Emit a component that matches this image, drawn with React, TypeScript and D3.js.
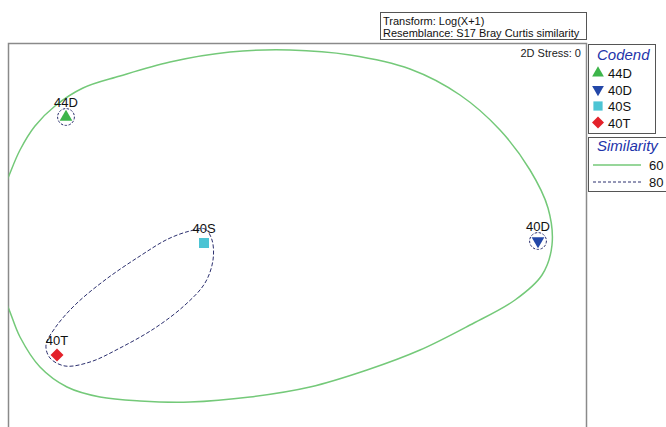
import React from "react";
import * as d3 from "d3";

// ---- data ----
const samples = ["44D", "40D", "40S", "40T"];
const mdsX = [-1.17, 1.19, -0.48, -1.215];
const mdsY = [0.565, -0.055, -0.065, -0.625];
const sampleColors = ["#3db54a", "#2347a8", "#4cc4d4", "#e3212a"];
const sampleShapes = ["triangle", "triangleDown", "square", "diamond"];

const simLevels = ["60", "80"];

// 60% similarity contour (MDS coordinates)
const contour60X = [-1.56, -1.525, -1.46, -1.4, -1.325, -1.225, -1.085, -0.9, -0.65, -0.35, -0.05, 0.25, 0.55, 0.8, 1.0, 1.15, 1.24, 1.26, 1.21, 1.075, 0.85, 0.6, 0.335, 0.05, -0.25, -0.55, -0.8, -1.0, -1.165, -1.3, -1.4, -1.46, -1.525];
const contour60Y = [-0.075, 0.1, 0.26, 0.4, 0.52, 0.62, 0.71, 0.77, 0.84, 0.89, 0.9, 0.875, 0.805, 0.675, 0.5, 0.3, 0.11, -0.075, -0.225, -0.35, -0.475, -0.6, -0.7, -0.785, -0.835, -0.86, -0.855, -0.835, -0.785, -0.685, -0.535, -0.385, -0.25];

// 80% similarity contour around 40S + 40T
const contour80X = [-0.55, -0.475, -0.44, -0.435, -0.475, -0.575, -0.725, -0.9, -1.05, -1.175, -1.25, -1.27, -1.225, -1.125, -0.975, -0.8, -0.66];
const contour80Y = [-0.005, 0.005, -0.05, -0.15, -0.265, -0.375, -0.49, -0.59, -0.66, -0.68, -0.64, -0.575, -0.49, -0.375, -0.25, -0.13, -0.045];
// 80% single-sample contours (circles)
const singleCircleSamples = ["44D", "40D"];
const singleCircleRadius = 0.042;

const W = 666;
const H = 427;
const frame = { left: 8.5, top: 43.5, right: 586.5, bottom: 440 };

const x = d3.scaleLinear().domain([-1.46, 1.43]).range([8, 586]);
const y = d3.scaleLinear().domain([0, -1]).range([230, 430]);

function symbolPath(shape: string, size: number) {
  if (shape === "triangle" || shape === "triangleDown")
    return d3.symbol().type(d3.symbolTriangle).size(size)() as string;
  return d3.symbol().type(d3.symbolSquare).size(size)() as string;
}
function symbolTransform(shape: string) {
  if (shape === "triangleDown") return " rotate(180)";
  if (shape === "diamond") return " rotate(45)";
  return "";
}
const symbolSizes: Record<string, number> = { triangle: 70, triangleDown: 70, square: 100, diamond: 85 };

const font = "Liberation Sans, Arial, sans-serif";

export default function App() {
  const line = d3
    .line<[number, number]>()
    .x((d) => x(d[0]))
    .y((d) => y(d[1]))
    .curve(d3.curveCatmullRomClosed.alpha(0.5));
  const c60 = line(contour60X.map((v, i) => [v, contour60Y[i]] as [number, number])) as string;
  const c80 = line(contour80X.map((v, i) => [v, contour80Y[i]] as [number, number])) as string;
  const rPx = x(singleCircleRadius) - x(0);

  return (
    <svg
      width={W}
      height={H}
      style={{ position: "absolute", left: 0, top: 0, background: "#fff" }}
      fontFamily={font}
    >
      <defs>
        <clipPath id="plotclip">
          <rect x={frame.left} y={frame.top} width={frame.right - frame.left} height={frame.bottom - frame.top} />
        </clipPath>
      </defs>
      {/* header box */}
      <rect x={380.5} y={12.5} width={206} height={27} fill="#fff" stroke="#555" strokeWidth={1} />
      <text x={383} y={25} fontSize={11} fill="#111">Transform: Log(X+1)</text>
      <text x={383} y={36.5} fontSize={11} fill="#111">Resemblance: S17 Bray Curtis similarity</text>

      {/* plot frame */}
      <rect
        x={frame.left}
        y={frame.top}
        width={frame.right - frame.left}
        height={frame.bottom - frame.top}
        fill="#fff"
        stroke="#8a8a8a"
        strokeWidth={1.5}
      />
      <text x={581} y={57} fontSize={11} textAnchor="end" fill="#222">2D Stress: 0</text>

      <g clipPath="url(#plotclip)">
        <path d={c60} fill="none" stroke="#74c979" strokeWidth={1.5} />
        <path d={c80} fill="none" stroke="#2b2f6e" strokeWidth={1} strokeDasharray="4,2" />
        {singleCircleSamples.map((s) => {
          const i = samples.indexOf(s);
          return (
            <circle
              key={s}
              cx={x(mdsX[i])}
              cy={y(mdsY[i])}
              r={rPx}
              fill="none"
              stroke="#2b2f6e"
              strokeWidth={1}
              strokeDasharray="2.5,1.5"
            />
          );
        })}
        {samples.map((s, i) => (
          <g key={s}>
            <path
              d={symbolPath(sampleShapes[i], symbolSizes[sampleShapes[i]])}
              transform={`translate(${x(mdsX[i])},${y(mdsY[i])})${symbolTransform(sampleShapes[i])}`}
              fill={sampleColors[i]}
            />
            <text x={x(mdsX[i])} y={y(mdsY[i]) - 10} fontSize={13} textAnchor="middle" fill="#111">
              {s}
            </text>
          </g>
        ))}
      </g>

      {/* Codend legend */}
      <rect x={588.5} y={44.5} width={67} height={89} fill="#fff" stroke="#555" strokeWidth={1} />
      <text x={597} y={60} fontSize={15} fontStyle="italic" fill="#2233aa">Codend</text>
      {samples.map((s, i) => (
        <g key={s}>
          <path
            d={symbolPath(sampleShapes[i], symbolSizes[sampleShapes[i]] * 0.85)}
            transform={`translate(598,${73 + i * 16.5})${symbolTransform(sampleShapes[i])}`}
            fill={sampleColors[i]}
          />
          <text x={608} y={78 + i * 16.5} fontSize={13} fill="#111">{s}</text>
        </g>
      ))}

      {/* Similarity legend */}
      <rect x={588.5} y={137.5} width={80} height={54} fill="#fff" stroke="#555" strokeWidth={1} />
      <text x={597} y={151} fontSize={15} fontStyle="italic" fill="#2233aa">Similarity</text>
      {simLevels.map((s, i) => (
        <g key={s}>
          <line
            x1={593}
            x2={641}
            y1={165 + i * 17}
            y2={165 + i * 17}
            stroke={i === 0 ? "#74c979" : "#2b2f6e"}
            strokeWidth={i === 0 ? 1.5 : 1}
            strokeDasharray={i === 0 ? undefined : "3,2"}
          />
          <text x={649} y={170 + i * 17} fontSize={13} fill="#111">{s}</text>
        </g>
      ))}
    </svg>
  );
}
